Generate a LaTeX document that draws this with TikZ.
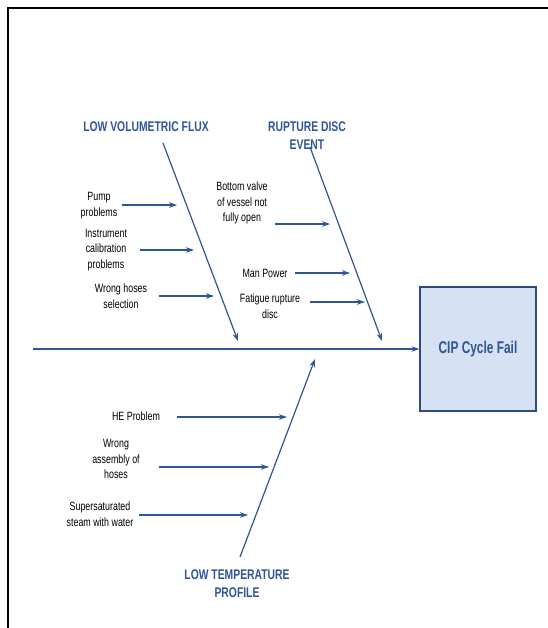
\documentclass[tikz,border=0pt]{standalone}
\usepackage{fontspec}
\setmainfont[FakeStretch=0.74]{Liberation Sans}
\newfontfamily\headfont[FakeStretch=0.74]{Liberation Sans}
\newfontfamily\efffont[FakeStretch=0.70]{Liberation Sans}
\usetikzlibrary{arrows.meta}
\definecolor{bone}{HTML}{2E5597}
\definecolor{headc}{HTML}{2F5597}
\definecolor{boxfill}{HTML}{D6E2F3}
\definecolor{boxline}{HTML}{2F4B7C}
\tikzset{
  arr/.style={draw=bone, line width=1.2pt, -{Stealth[length=8pt,width=5.5pt]}},
  cause/.style={font=\fontsize{12}{15.8}\selectfont, align=center, text=black, inner sep=0pt},
  head/.style={font=\headfont\fontsize{14}{18}\selectfont\bfseries, align=center, text=headc, inner sep=0pt},
  effect/.style={draw=boxline, line width=1.2pt, fill=boxfill, minimum width=116pt, minimum height=124pt, font=\efffont\fontsize{17}{20}\selectfont\bfseries, text=headc},
}
\begin{document}
\begin{tikzpicture}[x=1pt,y=-1pt]
\useasboundingbox (0,0) rectangle (547,628);
\draw[line width=2pt] (8,630) -- (8,8) -- (549,8);

% effect
\node[effect] (eff) at (478,349) {CIP Cycle Fail};
\coordinate (spS) at (33,349);
\draw[arr] (spS) -- (eff.west);

% headings
\node[head] (h1) at (146,127) {LOW VOLUMETRIC FLUX};
\node[head] (h2) at (307,136) {RUPTURE DISC\\EVENT};
\node[head] (h3) at (237,584) {LOW TEMPERATURE\\PROFILE};

% bones
\coordinate (b1s) at (163,143); \coordinate (b1e) at (238,341);
\coordinate (b2s) at (310,147); \coordinate (b2e) at (382,341);
\coordinate (b3s) at (240,557); \coordinate (b3e) at (315,359);
\draw[arr] (b1s) -- (b1e);
\draw[arr] (b2s) -- (b2e);
\draw[arr] (b3s) -- (b3e);

% causes: low volumetric flux
\node[cause] (c1) at (99,206) {Pump\\problems};
\node[cause] (c2) at (106,250) {Instrument\\calibration\\problems};
\node[cause] (c3) at (121,296) {Wrong hoses\\selection};
\coordinate (c1s) at (122,205); \coordinate (c1e) at (177,205);
\coordinate (c2s) at (140,250); \coordinate (c2e) at (194,250);
\coordinate (c3s) at (159,296); \coordinate (c3e) at (214,296);
\draw[arr] (c1s) -- (c1e);
\draw[arr] (c2s) -- (c2e);
\draw[arr] (c3s) -- (c3e);

% causes: rupture disc event
\node[cause] (c4) at (242,203) {Bottom valve\\of vessel not\\fully open};
\node[cause] (c5) at (265,273) {Man Power};
\node[cause] (c6) at (270,306) {Fatigue rupture\\disc};
\coordinate (c4s) at (275,224); \coordinate (c4e) at (330,224);
\coordinate (c5s) at (295,273); \coordinate (c5e) at (350,273);
\coordinate (c6s) at (310,302); \coordinate (c6e) at (365,302);
\draw[arr] (c4s) -- (c4e);
\draw[arr] (c5s) -- (c5e);
\draw[arr] (c6s) -- (c6e);

% causes: low temperature profile
\node[cause] (c7) at (136,416) {HE Problem};
\node[cause] (c8) at (116,459) {Wrong\\assembly of\\hoses};
\node[cause] (c9) at (100,514) {Supersaturated\\steam with water};
\coordinate (c7s) at (177,417); \coordinate (c7e) at (287,417);
\coordinate (c8s) at (159,467); \coordinate (c8e) at (269,467);
\coordinate (c9s) at (139,515); \coordinate (c9e) at (248,515);
\draw[arr] (c7s) -- (c7e);
\draw[arr] (c8s) -- (c8e);
\draw[arr] (c9s) -- (c9e);
\end{tikzpicture}
\end{document}
